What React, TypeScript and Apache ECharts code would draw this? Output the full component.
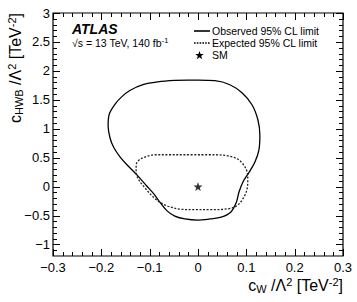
import React, { useEffect, useRef } from "react";
import * as echarts from "echarts";

// Observed 95% CL contour (c_W, c_HWB)
const observedX = [0, 0.035, 0.066, 0.091, 0.112, 0.124, 0.128, 0.126, 0.118, 0.106, 0.093, 0.085, 0.079, 0.068, 0.048, 0.025, 0, -0.027, -0.048, -0.064, -0.079, -0.091, -0.106, -0.124, -0.145, -0.161, -0.174, -0.182, -0.186, -0.184, -0.172, -0.158, -0.141, -0.114, -0.083, -0.048, -0.021, 0];
const observedY = [1.84, 1.83, 1.76, 1.62, 1.41, 1.15, 0.89, 0.63, 0.43, 0.25, 0.08, -0.09, -0.28, -0.44, -0.53, -0.56, -0.58, -0.56, -0.51, -0.42, -0.27, -0.13, 0.01, 0.18, 0.36, 0.51, 0.67, 0.84, 1.05, 1.24, 1.42, 1.55, 1.66, 1.76, 1.81, 1.835, 1.84, 1.84];

// Expected 95% CL contour
const expectedX = [0, 0.035, 0.062, 0.081, 0.093, 0.101, 0.103, 0.101, 0.093, 0.079, 0.056, 0.025, -0.006, -0.037, -0.062, -0.079, -0.095, -0.11, -0.122, -0.128, -0.128, -0.122, -0.11, -0.089, -0.058, -0.027, 0];
const expectedY = [0.55, 0.55, 0.53, 0.48, 0.39, 0.27, 0.11, -0.06, -0.21, -0.34, -0.39, -0.4, -0.4, -0.39, -0.34, -0.27, -0.16, -0.02, 0.11, 0.25, 0.37, 0.46, 0.51, 0.55, 0.55, 0.55, 0.55];

// Standard Model point
const smPoint = [0, 0];

// Axis ranges and ticks
const xRange = [-0.3, 0.3];
const yRange = [-1.2, 3];
const xMajorTicks = [-0.3, -0.2, -0.1, 0, 0.1, 0.2, 0.3];
const yMajorTicks = [-1, -0.5, 0, 0.5, 1, 1.5, 2, 2.5, 3];
const xMinorStep = 0.02;
const yMinorStep = 0.1;

const legendLabels = ["Observed 95% CL limit", "Expected 95% CL limit", "SM"];

const FONT = "Liberation Sans, Arial, Helvetica, sans-serif";

function minorTicks(range: number[], step: number, majors: number[]): number[] {
  const out: number[] = [];
  const n = Math.round((range[1] - range[0]) / step);
  for (let i = 1; i < n; i++) {
    const v = Math.round((range[0] + i * step) * 1000) / 1000;
    if (!majors.some((m) => Math.abs(m - v) < 1e-6)) out.push(v);
  }
  return out;
}

function starPath(): string {
  const pts: string[] = [];
  for (let i = 0; i < 10; i++) {
    const a = (-90 + i * 36) * Math.PI / 180;
    const r = i % 2 === 0 ? 10 : 4;
    pts.push(`${(r * Math.cos(a)).toFixed(2)},${(r * Math.sin(a)).toFixed(2)}`);
  }
  return "path://M" + pts.join("L") + "Z";
}

function starPolygon(cx: number, cy: number, R: number): number[][] {
  const pts: number[][] = [];
  for (let i = 0; i < 10; i++) {
    const a = (-90 + i * 36) * Math.PI / 180;
    const r = i % 2 === 0 ? R : R * 0.4;
    pts.push([cx + r * Math.cos(a), cy + r * Math.sin(a)]);
  }
  return pts;
}

const richTitle = {
  m: { fontSize: 16, lineHeight: 18, verticalAlign: "middle", fontFamily: FONT, fill: "#000" },
  sub: { fontSize: 11, lineHeight: 9, verticalAlign: "bottom", fontFamily: FONT, fill: "#000" },
  sup: { fontSize: 11, lineHeight: 9, verticalAlign: "top", fontFamily: FONT, fill: "#000" },
};

function xTickSeries(values: number[], len: number) {
  return {
    type: "custom", clip: false, z: 5,
    data: values.map((v) => [v, yRange[0]]),
    renderItem: (params: any, api: any) => {
      const b = api.coord([api.value(0), yRange[0]]);
      const t = api.coord([api.value(0), yRange[1]]);
      const x = Math.round(b[0]) + 0.5;
      return {
        type: "group",
        children: [
          { type: "line", shape: { x1: x, y1: b[1], x2: x, y2: b[1] - len }, style: { stroke: "#000", lineWidth: 1 } },
          { type: "line", shape: { x1: x, y1: t[1], x2: x, y2: t[1] + len }, style: { stroke: "#000", lineWidth: 1 } },
        ],
      };
    },
  };
}

function yTickSeries(values: number[], len: number) {
  return {
    type: "custom", clip: false, z: 5,
    data: values.map((v) => [xRange[0], v]),
    renderItem: (params: any, api: any) => {
      const l = api.coord([xRange[0], api.value(1)]);
      const r = api.coord([xRange[1], api.value(1)]);
      const y = Math.round(l[1]) + 0.5;
      return {
        type: "group",
        children: [
          { type: "line", shape: { x1: l[0], y1: y, x2: l[0] + len, y2: y }, style: { stroke: "#000", lineWidth: 1 } },
          { type: "line", shape: { x1: r[0], y1: y, x2: r[0] - len, y2: y }, style: { stroke: "#000", lineWidth: 1 } },
        ],
      };
    },
  };
}

export default function App() {
  const ref = useRef<HTMLDivElement>(null);
  useEffect(() => {
    if (!ref.current) return;
    const chart = echarts.init(ref.current, null, { renderer: "svg" });
    const minus = (v: number) => String(Math.round(v * 100) / 100).replace("-", "\u2212");
    const labelStyle = { color: "#000", fontSize: 13, fontFamily: FONT };

    chart.setOption({
      animation: false,
      grid: {
        left: 53, right: 14, top: 13, bottom: 46, containLabel: false,
        show: true, borderColor: "#000", borderWidth: 1.2, backgroundColor: "transparent",
      },
      xAxis: {
        type: "value", min: xRange[0], max: xRange[1], interval: 0.1,
        axisLine: { show: false, onZero: false }, axisTick: { show: false },
        splitLine: { show: false },
        axisLabel: { ...labelStyle, margin: 5, formatter: minus },
      },
      yAxis: {
        type: "value", min: yRange[0], max: yRange[1], splitNumber: 8,
        axisLine: { show: false, onZero: false }, axisTick: { show: false },
        splitLine: { show: false },
        axisLabel: { ...labelStyle, margin: 3, formatter: minus, showMinLabel: false },
      },
      series: [
        xTickSeries(xMajorTicks, 7),
        xTickSeries(minorTicks(xRange, xMinorStep, xMajorTicks), 4),
        yTickSeries(yMajorTicks, 7),
        yTickSeries(minorTicks(yRange, yMinorStep, yMajorTicks), 4),
        {
          name: legendLabels[0], type: "line",
          data: observedX.map((x, i) => [x, observedY[i]]),
          showSymbol: false, symbol: "none", smooth: 0.35,
          lineStyle: { color: "#000", width: 1.3, type: "solid" },
        },
        {
          name: legendLabels[1], type: "line",
          data: expectedX.map((x, i) => [x, expectedY[i]]),
          showSymbol: false, symbol: "none", smooth: 0.35,
          lineStyle: { color: "#222", width: 1.3, type: [2, 1.6] },
        },
        {
          name: legendLabels[2], type: "scatter",
          data: [smPoint], symbol: starPath(), symbolSize: 9,
          itemStyle: { color: "#000" },
        },
      ],
      graphic: [
        {
          type: "text", x: 72, y: 29,
          style: { text: "ATLAS", font: `italic bold 14px ${FONT}`, fill: "#000", textVerticalAlign: "middle", textAlign: "left" },
        },
        {
          type: "text", x: 72, y: 43,
          style: {
            text: "{n|\u221As = 13 TeV, 140 fb}{s|-1}", textVerticalAlign: "middle", textAlign: "left",
            rich: {
              n: { fontSize: 10.5, lineHeight: 14, verticalAlign: "middle", fontFamily: FONT, fill: "#000" },
              s: { fontSize: 7.5, lineHeight: 8, verticalAlign: "top", fontFamily: FONT, fill: "#000" },
            },
          },
        },
        { type: "line", shape: { x1: 194, y1: 31, x2: 210, y2: 31 }, style: { stroke: "#000", lineWidth: 1.6 } },
        {
          type: "text", x: 212, y: 31,
          style: { text: legendLabels[0], font: `10.5px ${FONT}`, fill: "#000", textVerticalAlign: "middle", textAlign: "left" },
        },
        { type: "line", shape: { x1: 194, y1: 43, x2: 210, y2: 43 }, style: { stroke: "#000", lineWidth: 1.4, lineDash: [1.6, 1.2] } },
        {
          type: "text", x: 212, y: 43,
          style: { text: legendLabels[1], font: `10.5px ${FONT}`, fill: "#000", textVerticalAlign: "middle", textAlign: "left" },
        },
        { type: "polygon", shape: { points: starPolygon(199.5, 55.5, 4.5) }, style: { fill: "#000" } },
        {
          type: "text", x: 212, y: 55,
          style: { text: legendLabels[2], font: `10.5px ${FONT}`, fill: "#000", textVerticalAlign: "middle", textAlign: "left" },
        },
        {
          type: "text", x: 343, y: 285,
          style: {
            text: "{m|c}{sub|W}{m| /\u039B}{sup|2}{m| [TeV}{sup|-2}{m|]}",
            textAlign: "right", textVerticalAlign: "middle", rich: richTitle,
          },
        },
        {
          type: "text", x: 15, y: 13, rotation: Math.PI / 2,
          style: {
            text: "{m|c}{sub|HWB}{m| /\u039B}{sup|2}{m| [TeV}{sup|-2}{m|]}",
            textAlign: "right", textVerticalAlign: "middle", rich: richTitle,
          },
        },
      ],
    });
    return () => chart.dispose();
  }, []);
  return <div ref={ref} style={{ width: 357, height: 302, position: "absolute", left: 0, top: 0 }} />;
}
